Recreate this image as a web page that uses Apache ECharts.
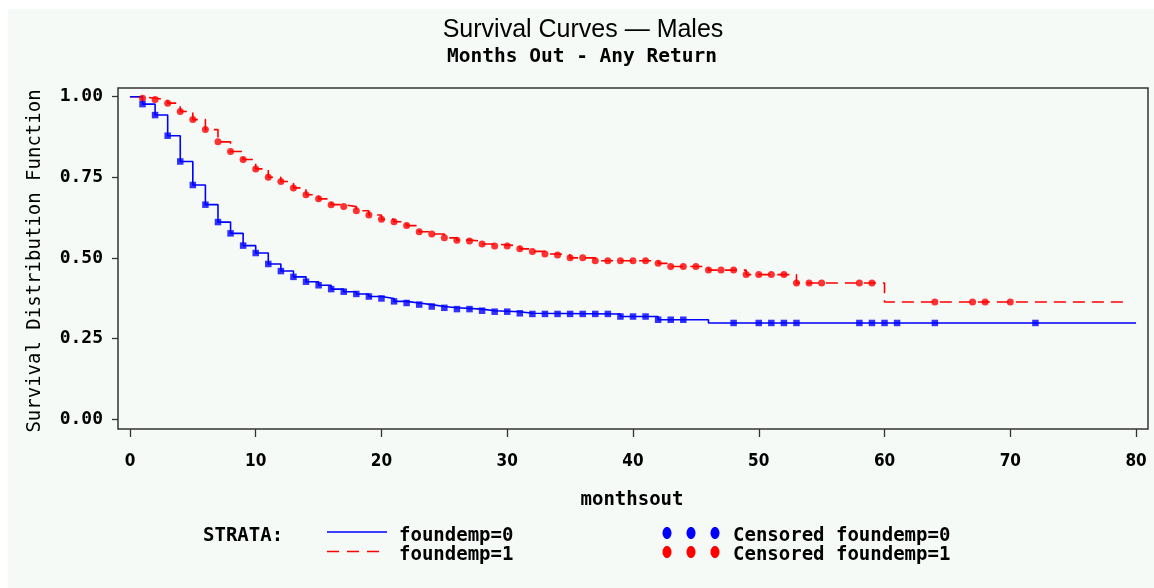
<!DOCTYPE html>
<html><head><meta charset="utf-8">
<script src="https://cdn.jsdelivr.net/npm/echarts@6/dist/echarts.min.js"></script>
<style>html,body{margin:0;padding:0;background:#ffffff;}#c{position:absolute;left:8px;top:9px;width:1146px;height:579px;}</style>
</head><body><div id="c"></div>
<script>
// ---- data ----
const xTicks = [0, 10, 20, 30, 40, 50, 60, 70, 80];
const yTicks = [0, 0.25, 0.5, 0.75, 1.0];

// foundemp=0 : event times and survival estimates
const times0 = [0, 1, 2, 3, 4, 5, 6, 7, 8, 9, 10, 11, 12, 13, 14, 15, 16, 17, 18, 19, 20, 21, 22, 23, 24, 25, 26, 28, 29, 31, 32, 39, 42, 46, 80];
const surv0  = [1.000, 0.977, 0.943, 0.879, 0.799, 0.726, 0.665, 0.611, 0.576, 0.538, 0.515, 0.481, 0.459, 0.441, 0.426, 0.415, 0.403, 0.395, 0.388, 0.380, 0.374, 0.365, 0.360, 0.355, 0.349, 0.345, 0.341, 0.336, 0.333, 0.328, 0.326, 0.318, 0.308, 0.298, 0.298];
// foundemp=0 : censoring times
const censor0 = [1, 2, 3, 4, 5, 6, 7, 8, 9, 10, 11, 12, 13, 14, 15, 16, 17, 18, 19, 20, 21, 22, 23, 24, 25, 26, 27, 28, 29, 30, 31, 32, 33, 34, 35, 36, 37, 38, 39, 40, 41, 42, 43, 44, 48, 50, 51, 52, 53, 58, 59, 60, 61, 64, 72];

// foundemp=1 : event times and survival estimates
const times1 = [0, 1, 2, 3, 4, 5, 6, 7, 8, 9, 10, 11, 12, 13, 14, 15, 16, 17, 18, 19, 20, 21, 22, 23, 24, 25, 26, 27, 28, 29, 31, 32, 33, 34, 35, 37, 42, 43, 46, 49, 53, 60, 79];
const surv1  = [1.000, 0.995, 0.991, 0.980, 0.954, 0.929, 0.898, 0.860, 0.830, 0.805, 0.776, 0.750, 0.737, 0.717, 0.696, 0.683, 0.665, 0.659, 0.646, 0.633, 0.620, 0.612, 0.600, 0.581, 0.574, 0.562, 0.555, 0.552, 0.543, 0.537, 0.528, 0.520, 0.512, 0.509, 0.500, 0.491, 0.483, 0.473, 0.462, 0.448, 0.422, 0.363, 0.363];
// foundemp=1 : censoring times
const censor1 = [1, 2, 3, 4, 5, 6, 7, 8, 9, 10, 11, 12, 13, 14, 15, 16, 17, 18, 19, 20, 21, 22, 23, 24, 25, 26, 27, 28, 29, 30, 31, 32, 33, 34, 35, 36, 37, 38, 39, 40, 41, 42, 43, 44, 45, 46, 47, 48, 49, 50, 51, 52, 53, 54, 55, 58, 59, 64, 67, 68, 70];

const titleText = 'Survival Curves — Males';
const subtitleText = 'Months Out - Any Return';
const xName = 'monthsout';
const yName = 'Survival Distribution Function';
const strataLabel = 'STRATA:';
const seriesNames = ['foundemp=0', 'foundemp=1'];
const censorNames = ['Censored foundemp=0', 'Censored foundemp=1'];

// ---- helpers ----
function survAt(times, surv, t) {
  let s = surv[0];
  for (let i = 0; i < times.length; i++) { if (times[i] <= t) s = surv[i]; }
  return s;
}
const curve0 = times0.map((t, i) => [t, surv0[i]]);
const curve1 = times1.map((t, i) => [t, surv1[i]]);
const cens0 = censor0.map(t => [t, survAt(times0, surv0, t)]);
const cens1 = censor1.map(t => [t, survAt(times1, surv1, t)]);

const MONO = '"DejaVu Sans Mono", "Liberation Mono", monospace';
const NARROW = '"DejaVu Sans Condensed", "Liberation Sans Narrow", "DejaVu Sans", sans-serif';
const BLUE = '#0000FF', RED = '#FF0000', FRAME = '#333333';

function txt(x, y, text, font, align, extra) {
  return Object.assign({
    type: 'text', x: x, y: y, silent: true,
    style: { text: text, font: font, fill: '#000', textAlign: align, textVerticalAlign: 'middle', align: align, verticalAlign: 'middle' }
  }, extra || {});
}
function dot(cx, cy, color) {
  return { type: 'ellipse', silent: true, shape: { cx: cx, cy: cy, rx: 4.5, ry: 6 }, style: { fill: color } };
}

const chart = echarts.init(document.getElementById('c'), null, { renderer: 'canvas' });
chart.setOption({
  backgroundColor: '#F6FAF7',
  animation: false,
  grid: { left: 110, right: 6, top: 79, bottom: 159, show: true, borderColor: FRAME, borderWidth: 1.5, backgroundColor: 'transparent' },
  xAxis: {
    type: 'value', min: -0.95, max: 80.95,
    axisLine: { show: false, onZero: false },
    splitLine: { show: false },
    axisTick: { show: true, inside: false, length: 8, customValues: xTicks, lineStyle: { color: FRAME, width: 1.3 } },
    axisLabel: { customValues: xTicks, margin: 24, color: '#000', fontFamily: NARROW, fontWeight: 'bold', fontSize: 17 }
  },
  yAxis: {
    type: 'value', min: -0.031, max: 1.027,
    axisLine: { show: false, onZero: false },
    splitLine: { show: false },
    axisTick: { show: true, inside: false, length: 6, customValues: yTicks, lineStyle: { color: FRAME, width: 1.3 } },
    axisLabel: { customValues: yTicks, margin: 15, color: '#000', fontFamily: MONO, fontWeight: 'bold', fontSize: 18,
      formatter: v => v.toFixed(2) }
  },
  series: [
    { name: seriesNames[1], type: 'line', step: 'end', data: curve1, showSymbol: false, symbol: 'none', z: 2,
      lineStyle: { color: RED, width: 1.6, type: [12, 7] } },
    { name: seriesNames[0], type: 'line', step: 'end', data: curve0, showSymbol: false, symbol: 'none', z: 3,
      lineStyle: { color: BLUE, width: 1.6 } },
    { name: censorNames[1], type: 'scatter', data: cens1, symbol: 'circle', symbolSize: 7, z: 4,
      itemStyle: { color: RED } },
    { name: censorNames[0], type: 'scatter', data: cens0, symbol: 'rect', symbolSize: 6.5, z: 5,
      itemStyle: { color: BLUE } }
  ],
  graphic: [
    txt(575, 21, titleText, '25px "Liberation Sans", Arial, sans-serif', 'center'),
    txt(574, 48, subtitleText, 'bold 19.5px ' + MONO, 'center'),
    txt(624, 491, xName, 'bold 19px ' + MONO, 'center'),
    txt(27, 252, yName, '19px ' + MONO, 'center', { rotation: Math.PI / 2 }),
    txt(195, 527, strataLabel, 'bold 19px ' + MONO, 'left'),
    { type: 'line', silent: true, shape: { x1: 319, y1: 523, x2: 379, y2: 523 }, style: { stroke: BLUE, lineWidth: 1.6 } },
    { type: 'line', silent: true, shape: { x1: 319, y1: 542.5, x2: 379, y2: 542.5 }, style: { stroke: RED, lineWidth: 1.6, lineDash: [12, 8] } },
    txt(391, 527, seriesNames[0], 'bold 19px ' + MONO, 'left'),
    txt(391, 546, seriesNames[1], 'bold 19px ' + MONO, 'left'),
    dot(659, 524, BLUE), dot(683, 524, BLUE), dot(707, 524, BLUE),
    dot(659, 543, RED), dot(683, 543, RED), dot(707, 543, RED),
    txt(725, 527, censorNames[0], 'bold 19px ' + MONO, 'left'),
    txt(725, 546, censorNames[1], 'bold 19px ' + MONO, 'left')
  ]
});
</script>
</body></html>
